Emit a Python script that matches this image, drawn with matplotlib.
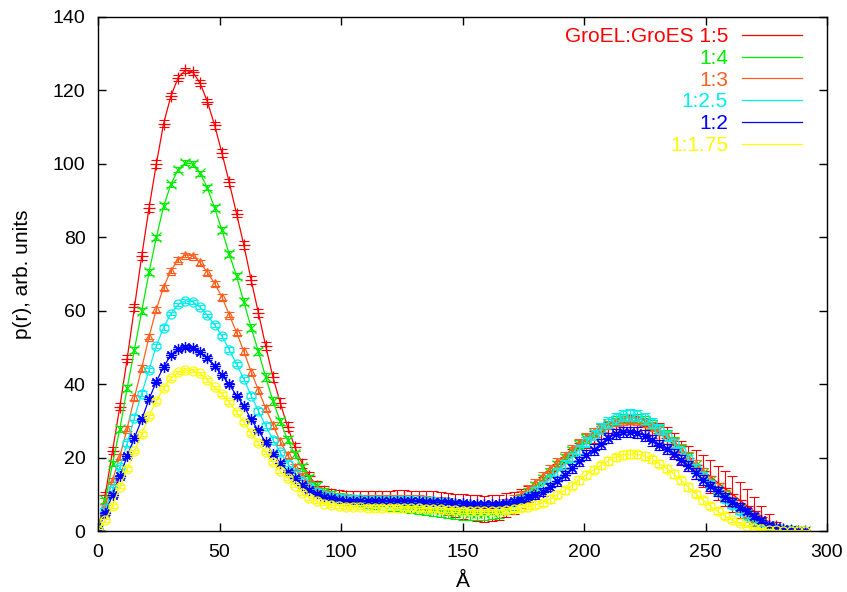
import numpy as np
import matplotlib
matplotlib.use('Agg')
import matplotlib.pyplot as plt

plt.rcParams['font.family'] = ['Liberation Sans', 'DejaVu Sans']

# distance grid (Angstrom), one point every 3 A
r = np.arange(0, 292, 3)

labels = ['GroEL:GroES 1:5', '1:4', '1:3', '1:2.5', '1:2', '1:1.75']
colors = ['#ff0000', '#00ee00', '#ff5f1f', '#00f0f0', '#0000ff', '#ffff00']

p_15 = [0.5, 10, 22, 34, 47, 61, 75, 88, 100, 111,
        118.5, 123.5, 125.5, 125, 122, 117, 110.5, 103, 95, 86.5,
        78, 68.5, 59.5, 50.5, 42, 35, 28.5, 23, 18.5, 15,
        12.5, 11, 10.3, 9.8, 9.6, 9.5, 9.5, 9.5, 9.5, 9.5,
        9.4, 9.4, 9.3, 9.1, 8.9, 8.6, 8.3, 7.9, 7.5, 7.1,
        6.8, 6.5, 6.3, 6.2, 6.3, 6.6, 7.2, 7.8, 8.9, 10.2,
        11.5, 13, 14.8, 16.8, 18.8, 20.8, 22.6, 24.2, 25.7, 27,
        28.1, 29, 29.5, 29.7, 29.4, 28.8, 27.9, 26.8, 25.4, 23.6,
        21.5, 19.9, 18.2, 16.5, 15, 13.3, 11.7, 10.2, 8.6, 7,
        5.5, 4, 2.6, 1.5, 0.8, 0.4, 0.2, 0.2]
e_15 = [0.5, 0.8, 0.9, 1.0, 1.0, 1.0, 1.0, 1.0, 1.0, 1.0,
        0.8, 0.8, 0.7, 0.7, 0.8, 0.8, 0.9, 1.0, 1.0, 1.0,
        1.1, 1.1, 1.1, 1.1, 1.2, 1.2, 1.2, 1.2, 1.2, 1.2,
        1.3, 1.3, 1.3, 1.4, 1.4, 1.5, 1.5, 1.5, 1.6, 1.6,
        1.7, 1.8, 1.9, 2.0, 2.2, 2.4, 2.6, 2.8, 3.0, 3.2,
        3.3, 3.4, 3.5, 3.5, 3.5, 3.4, 3.2, 3.0, 2.6, 2.2,
        2.0, 1.8, 1.7, 1.6, 1.6, 1.6, 1.6, 1.6, 1.7, 1.7,
        1.8, 1.8, 1.9, 2.0, 2.1, 2.2, 2.4, 2.6, 2.9, 3.2,
        3.2, 3.5, 4.0, 4.3, 4.5, 4.6, 4.7, 4.9, 5.0, 4.5,
        4.0, 3.0, 2.2, 1.2, 0.6, 0.3, 0.2, 0.2]

p_14 = [0.5, 8.5, 18.5, 28, 39, 49.5, 60, 70.5, 80, 88.5,
        94.5, 98.5, 100.3, 100, 97.5, 93.5, 88, 82, 75.5, 69.5,
        62.5, 55.5, 49, 42, 35.5, 30, 25, 21, 17.5, 14.5,
        12.3, 10.8, 9.8, 9.2, 8.8, 8.5, 8.2, 7.9, 7.6, 7.4,
        7.2, 7.0, 6.8, 6.6, 6.4, 6.2, 6.0, 5.8, 5.6, 5.4,
        5.2, 5.0, 5.0, 5.0, 5.2, 5.6, 6.3, 7.4, 8.8, 10.5,
        12.3, 14.2, 16, 18, 19.9, 21.8, 23.6, 25.3, 26.9, 28.2,
        29.3, 30.2, 30.7, 30.9, 30.7, 30.1, 29.1, 27.8, 26.2, 24.4,
        22.4, 20.3, 18.1, 15.9, 13.7, 11.6, 9.6, 7.8, 6.1, 4.6,
        3.3, 2.2, 1.4, 0.8, 0.4, 0.3, 0.2, 0.2]
e_14 = [0.5, 0.7, 0.8, 0.8, 0.8, 0.8, 0.8, 0.8, 0.8, 0.8,
        0.7, 0.7, 0.7, 0.7, 0.7, 0.7, 0.8, 0.8, 0.8, 0.8,
        0.9, 0.9, 0.9, 1.0, 1.0, 1.0, 1.0, 1.0, 1.0, 1.0,
        1.1, 1.1, 1.1, 1.2, 1.2, 1.3, 1.3, 1.4, 1.4, 1.5,
        1.5, 1.5, 1.6, 1.6, 1.7, 1.7, 1.8, 1.8, 1.9, 1.9,
        2.0, 2.0, 2.0, 2.0, 1.9, 1.8, 1.6, 1.5, 1.4, 1.3,
        1.3, 1.2, 1.2, 1.2, 1.2, 1.2, 1.2, 1.2, 1.2, 1.2,
        1.2, 1.2, 1.2, 1.2, 1.2, 1.2, 1.2, 1.3, 1.3, 1.3,
        1.4, 1.4, 1.4, 1.5, 1.5, 1.5, 1.5, 1.4, 1.3, 1.2,
        1.0, 0.8, 0.6, 0.4, 0.3, 0.2, 0.2, 0.2]

p_13 = [0.5, 7, 14, 20.5, 28, 36.5, 44.5, 53, 60.5, 66.5,
        71, 74, 75.3, 75, 73.2, 70.5, 67.5, 63.8, 59, 54.2,
        49, 43.5, 38.5, 33.5, 29, 24.5, 20.8, 17.5, 15, 12.8,
        11.3, 10.3, 9.7, 9.3, 9.1, 9.0, 9.0, 9.0, 9.0, 9.0,
        9.0, 8.9, 8.9, 8.8, 8.7, 8.5, 8.3, 8.1, 7.8, 7.5,
        7.2, 7.0, 6.8, 6.7, 6.8, 7.1, 7.7, 8.7, 10, 11.6,
        13.3, 15.1, 16.9, 18.8, 20.6, 22.4, 24.1, 25.6, 27, 28.2,
        29.1, 29.8, 30.2, 30.3, 30.1, 29.5, 28.6, 27.4, 25.9, 24.1,
        22.2, 20.1, 18, 15.8, 13.7, 11.7, 9.8, 8, 6.4, 4.9,
        3.6, 2.5, 1.6, 0.9, 0.5, 0.3, 0.2, 0.2]
e_13 = [0.4, 0.6, 0.6, 0.7, 0.7, 0.7, 0.7, 0.7, 0.7, 0.7,
        0.6, 0.6, 0.6, 0.6, 0.6, 0.6, 0.7, 0.7, 0.7, 0.7,
        0.8, 0.8, 0.8, 0.8, 0.9, 0.9, 0.9, 0.9, 0.9, 0.9,
        0.9, 0.9, 0.9, 1.0, 1.0, 1.0, 1.0, 1.0, 1.0, 1.0,
        1.0, 1.0, 1.1, 1.1, 1.1, 1.1, 1.2, 1.2, 1.2, 1.2,
        1.2, 1.2, 1.2, 1.2, 1.2, 1.2, 1.2, 1.1, 1.1, 1.1,
        1.1, 1.1, 1.1, 1.1, 1.1, 1.1, 1.1, 1.1, 1.1, 1.1,
        1.1, 1.1, 1.1, 1.1, 1.1, 1.1, 1.2, 1.2, 1.2, 1.3,
        1.3, 1.3, 1.4, 1.4, 1.4, 1.4, 1.4, 1.3, 1.2, 1.1,
        1.0, 0.8, 0.6, 0.4, 0.3, 0.2, 0.2, 0.2]

p_125 = [0.5, 6, 11.5, 17.5, 24, 31, 37.5, 44, 50.5, 55.5,
         59.3, 61.8, 62.7, 62.5, 61, 58.8, 56.2, 53.2, 49.5, 45.5,
         41.5, 37, 32.8, 28.8, 25, 21.5, 18.5, 15.8, 13.8, 12,
         10.8, 10, 9.5, 9.2, 9.0, 8.9, 8.8, 8.7, 8.7, 8.7,
         8.7, 8.7, 8.6, 8.6, 8.5, 8.4, 8.3, 8.1, 7.9, 7.6,
         7.3, 7.1, 6.9, 6.8, 6.8, 7.0, 7.3, 7.9, 8.7, 9.7,
         11, 12.5, 14.3, 16.2, 18.2, 20.2, 22.3, 24.3, 26.2, 28,
         29.6, 30.8, 31.6, 31.9, 31.6, 30.8, 29.5, 27.9, 26, 24,
         21.9, 19.7, 17.4, 15.1, 12.9, 10.8, 8.9, 7.1, 5.5, 4.1,
         2.9, 1.9, 1.2, 0.7, 0.4, 0.3, 0.2, 0.2]
e_125 = [0.4, 0.5, 0.5, 0.6, 0.6, 0.6, 0.6, 0.6, 0.6, 0.6,
         0.5, 0.5, 0.5, 0.5, 0.5, 0.5, 0.6, 0.6, 0.6, 0.6,
         0.6, 0.6, 0.7, 0.7, 0.7, 0.7, 0.7, 0.7, 0.7, 0.7,
         0.7, 0.7, 0.7, 0.7, 0.7, 0.7, 0.7, 0.7, 0.7, 0.7,
         0.7, 0.7, 0.7, 0.7, 0.7, 0.7, 0.7, 0.7, 0.7, 0.7,
         0.7, 0.7, 0.7, 0.7, 0.7, 0.7, 0.8, 0.8, 0.9, 0.9,
         1.0, 1.0, 1.1, 1.1, 1.2, 1.2, 1.3, 1.3, 1.4, 1.4,
         1.5, 1.5, 1.5, 1.5, 1.5, 1.5, 1.4, 1.4, 1.3, 1.3,
         1.2, 1.2, 1.1, 1.1, 1.0, 1.0, 0.9, 0.8, 0.7, 0.6,
         0.5, 0.4, 0.3, 0.3, 0.2, 0.2, 0.2, 0.2]

p_12 = [0.5, 5, 10, 15, 20.5, 25.5, 30.5, 36, 40.8, 44.8,
        48, 49.6, 50.2, 50, 48.8, 47.2, 45, 42.5, 40, 37,
        34.2, 30.5, 27.5, 24.3, 21, 18.7, 16.3, 14.5, 12.6, 11.2,
        10.2, 9.5, 9, 8.6, 8.4, 8.3, 8.2, 8.2, 8.2, 8.2,
        8.2, 8.2, 8.2, 8.2, 8.2, 8.1, 8.1, 8.0, 7.9, 7.8,
        7.7, 7.6, 7.5, 7.5, 7.5, 7.6, 7.8, 8.2, 8.7, 9.3,
        9.8, 10.8, 12.2, 13.7, 15.3, 17.2, 19.1, 20.8, 22.3, 23.8,
        25.4, 26.5, 27.1, 27.1, 26.9, 26.1, 24.8, 23.5, 22.4, 21,
        19.5, 17.8, 15.8, 14, 12.3, 10.9, 9.4, 8, 6.8, 5.5,
        4.2, 3, 1.9, 1.1, 0.6, 0.3, 0.2, 0.2]
e_12 = [0.3, 0.4, 0.5, 0.5, 0.5, 0.5, 0.5, 0.5, 0.5, 0.5,
        0.5, 0.5, 0.5, 0.5, 0.5, 0.5, 0.5, 0.5, 0.5, 0.5,
        0.5, 0.5, 0.5, 0.5, 0.5, 0.5, 0.5, 0.5, 0.5, 0.5,
        0.5, 0.5, 0.5, 0.5, 0.5, 0.5, 0.5, 0.5, 0.5, 0.5,
        0.5, 0.5, 0.5, 0.5, 0.5, 0.5, 0.5, 0.5, 0.5, 0.5,
        0.5, 0.5, 0.5, 0.5, 0.5, 0.5, 0.6, 0.7, 0.8, 0.9,
        1.0, 1.1, 1.1, 1.2, 1.2, 1.3, 1.3, 1.3, 1.4, 1.4,
        1.4, 1.4, 1.4, 1.4, 1.4, 1.4, 1.4, 1.4, 1.4, 1.4,
        1.4, 1.4, 1.4, 1.3, 1.3, 1.2, 1.1, 1.0, 0.9, 0.8,
        0.7, 0.6, 0.5, 0.4, 0.3, 0.2, 0.2, 0.2]

p_1175 = [0.3, 3, 7, 12.2, 17, 21.8, 26.5, 31.3, 35.5, 39,
          41.8, 43.3, 43.9, 43.8, 43, 41.3, 39.2, 37.4, 35.2, 32.5,
          29.8, 26.8, 24, 21.5, 18.8, 16.4, 14.5, 12.5, 10.5, 9.2,
          8.3, 7.6, 7.2, 7.0, 6.8, 6.7, 6.6, 6.5, 6.5, 6.5,
          6.5, 6.5, 6.4, 6.4, 6.3, 6.2, 6.1, 6.0, 5.9, 5.8,
          5.7, 5.6, 5.5, 5.5, 5.5, 5.6, 5.8, 6.0, 6.3, 6.8,
          7.3, 7.8, 8.8, 10, 11.2, 12.5, 14, 15.4, 16.8, 18,
          19.2, 20.2, 20.8, 21.1, 21, 20.5, 19.6, 18.5, 17.1, 15.6,
          13.9, 12.1, 10.2, 8.5, 6.9, 5.5, 4.2, 3.1, 2.2, 1.5,
          1.0, 0.6, 0.4, 0.3, 0.2, 0.2, 0.2, 0.2]
e_1175 = [0.3, 0.4, 0.5, 0.5, 0.5, 0.5, 0.5, 0.5, 0.5, 0.5,
          0.5, 0.5, 0.5, 0.5, 0.5, 0.5, 0.5, 0.5, 0.5, 0.5,
          0.5, 0.5, 0.5, 0.5, 0.5, 0.5, 0.5, 0.5, 0.5, 0.5,
          0.5, 0.5, 0.6, 0.6, 0.6, 0.6, 0.6, 0.6, 0.6, 0.6,
          0.6, 0.6, 0.6, 0.6, 0.6, 0.6, 0.6, 0.6, 0.6, 0.6,
          0.6, 0.6, 0.6, 0.6, 0.6, 0.6, 0.7, 0.7, 0.8, 0.8,
          0.9, 0.9, 1.0, 1.0, 1.0, 1.0, 1.0, 1.0, 1.0, 1.0,
          1.0, 1.0, 1.0, 1.0, 1.0, 1.0, 1.0, 1.0, 1.0, 1.0,
          1.0, 1.0, 0.9, 0.9, 0.8, 0.8, 0.7, 0.6, 0.5, 0.4,
          0.3, 0.3, 0.2, 0.2, 0.2, 0.2, 0.2, 0.2]

series = [p_15, p_14, p_13, p_125, p_12, p_1175]
errors = [e_15, e_14, e_13, e_125, e_12, e_1175]
# gnuplot-like point types: +, x, open triangle, open circle, asterisk, open circle
markers = ['+', 'x', '^', 'o', (8, 2, 0), 'o']
msizes = [8, 7, 6, 6.5, 8, 6.5]

for s, e in zip(series, errors):
    assert len(s) == len(r) and len(e) == len(r)

fig = plt.figure(figsize=(8.47, 5.92), dpi=100)
ax = fig.add_axes([0.1157, 0.1022, 0.8607, 0.8691])

handles = []
for y, err, c, m, ms, lab in zip(series, errors, colors, markers, msizes, labels):
    ax.errorbar(r, y, yerr=err, fmt='none', ecolor=c, elinewidth=0.8,
                capsize=3.6, capthick=0.8)
    h, = ax.plot(r, y, color=c, lw=0.9, label=lab)
    ax.plot(r, y, ls='none', marker=m, ms=ms, mec=c, mfc='none', mew=0.9)
    handles.append(h)

ax.set_xlim(0, 300)
ax.set_ylim(0, 140)
ax.set_xticks(np.arange(0, 301, 50))
ax.set_yticks(np.arange(0, 141, 20))
ax.tick_params(direction='in', top=True, right=True, length=6, width=1,
               labelsize=14, pad=9)
for sp in ax.spines.values():
    sp.set_linewidth(1)

ax.set_xlabel('Å', fontsize=15, labelpad=8)
ax.set_ylabel('p(r), arb. units', fontsize=15, labelpad=15)

ax.legend(handles=handles, loc='upper right', bbox_to_anchor=(0.9657, 0.980),
          frameon=False, markerfirst=False, labelcolor='linecolor',
          fontsize=15, handlelength=2.9, handletextpad=0.65,
          labelspacing=0.13, borderpad=0, borderaxespad=0)

fig.savefig('out.png', dpi=100)
